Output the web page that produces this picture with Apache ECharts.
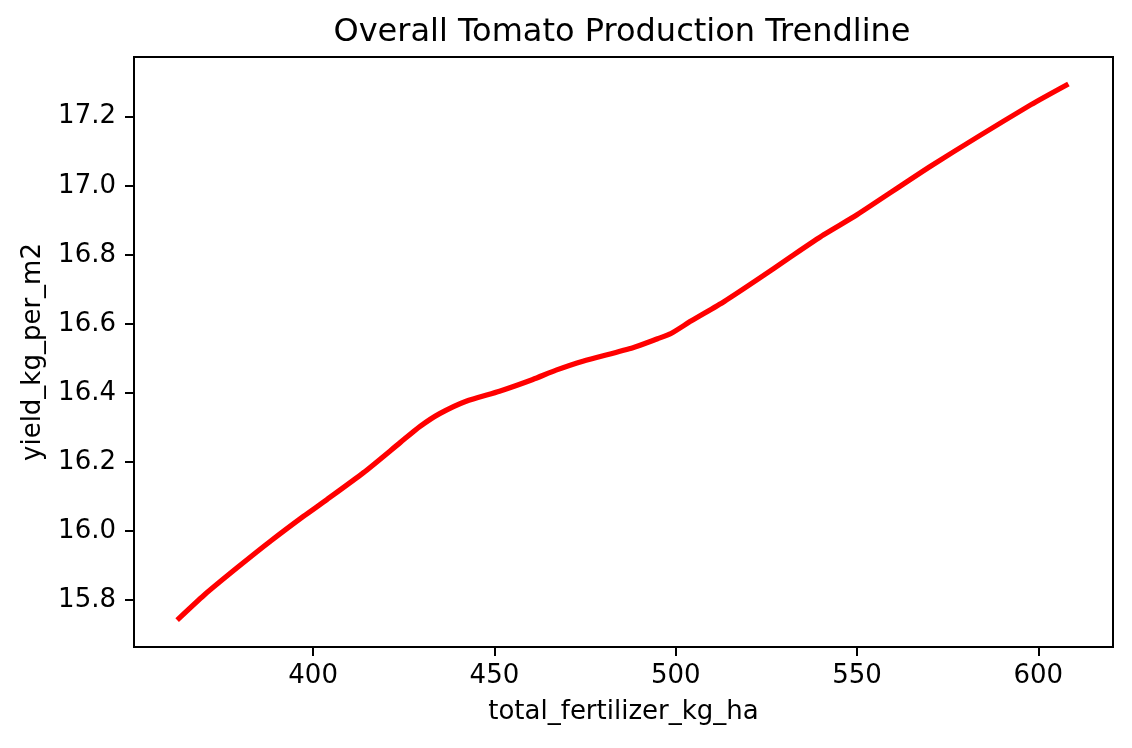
<!DOCTYPE html>
<html>
<head>
<meta charset="utf-8">
<script src="https://cdn.jsdelivr.net/npm/echarts@6/dist/echarts.min.js"></script>
<style>
  html, body { margin: 0; padding: 0; background: #fff; }
  #chart { width: 1132px; height: 748px; }
</style>
</head>
<body>
<div id="chart"></div>
<script>
const fertilizer = [362.5, 369.9, 379.1, 388.3, 397.4, 403.8, 413.9, 424.0, 429.5, 434.9, 442.2,
                    451.4, 460.6, 467.0, 474.4, 488.2, 495.0, 498.7, 504.2, 513.4, 522.5, 531.7,
                    540.8, 550.0, 570.5, 598.0, 608.3];
const yieldKg = [15.742, 15.814, 15.894, 15.971, 16.043, 16.091, 16.169, 16.256, 16.303, 16.340, 16.376,
                 16.405, 16.439, 16.466, 16.492, 16.531, 16.557, 16.572, 16.608, 16.665, 16.728, 16.794,
                 16.858, 16.916, 17.058, 17.235, 17.295];
const xTicks = [400, 450, 500, 550, 600];
const yTicks = [15.8, 16.0, 16.2, 16.4, 16.6, 16.8, 17.0, 17.2];

var myChart = echarts.init(document.getElementById('chart'), null, { renderer: 'canvas' });

const font = 'DejaVu Sans';
const points = fertilizer.map((x, i) => [x, yieldKg[i]]);

var option = {
  backgroundColor: '#fff',
  animation: false,
  title: {
    text: 'Overall Tomato Production Trendline',
    left: 617,
    textAlign: 'center',
    top: 12,
    textStyle: { fontFamily: font, fontSize: 32, fontWeight: 'normal', color: '#000' }
  },
  grid: {
    left: 134,
    right: 19,
    top: 57,
    bottom: 101,
    show: true,
    borderColor: '#000',
    borderWidth: 2,
    backgroundColor: '#fff'
  },
  xAxis: {
    type: 'value',
    min: 350.6,
    max: 620.6,
    name: 'total_fertilizer_kg_ha',
    nameLocation: 'middle',
    nameGap: 52,
    nameTextStyle: { fontFamily: font, fontSize: 26, color: '#000' },
    axisLine: { show: true, lineStyle: { color: '#000', width: 2 } },
    axisTick: { show: true, length: 9, lineStyle: { color: '#000', width: 2 }, customValues: xTicks },
    axisLabel: { fontFamily: font, fontSize: 26, color: '#000', margin: 16, customValues: xTicks },
    splitLine: { show: false }
  },
  yAxis: {
    type: 'value',
    min: 15.664,
    max: 17.373,
    name: 'yield_kg_per_m2',
    nameLocation: 'middle',
    nameGap: 88,
    nameTextStyle: { fontFamily: font, fontSize: 26, color: '#000' },
    axisLine: { show: true, lineStyle: { color: '#000', width: 2 } },
    axisTick: { show: true, length: 9, lineStyle: { color: '#000', width: 2 }, customValues: yTicks },
    axisLabel: {
      fontFamily: font, fontSize: 26, color: '#000', margin: 18,
      customValues: yTicks,
      formatter: v => v.toFixed(1)
    },
    splitLine: { show: false }
  },
  series: [
    {
      type: 'line',
      data: points,
      showSymbol: false,
      smooth: 0.2,
      lineStyle: { color: '#ff0000', width: 5.2, cap: 'butt', join: 'round' }
    }
  ]
};

option && myChart.setOption(option);
</script>
</body>
</html>
